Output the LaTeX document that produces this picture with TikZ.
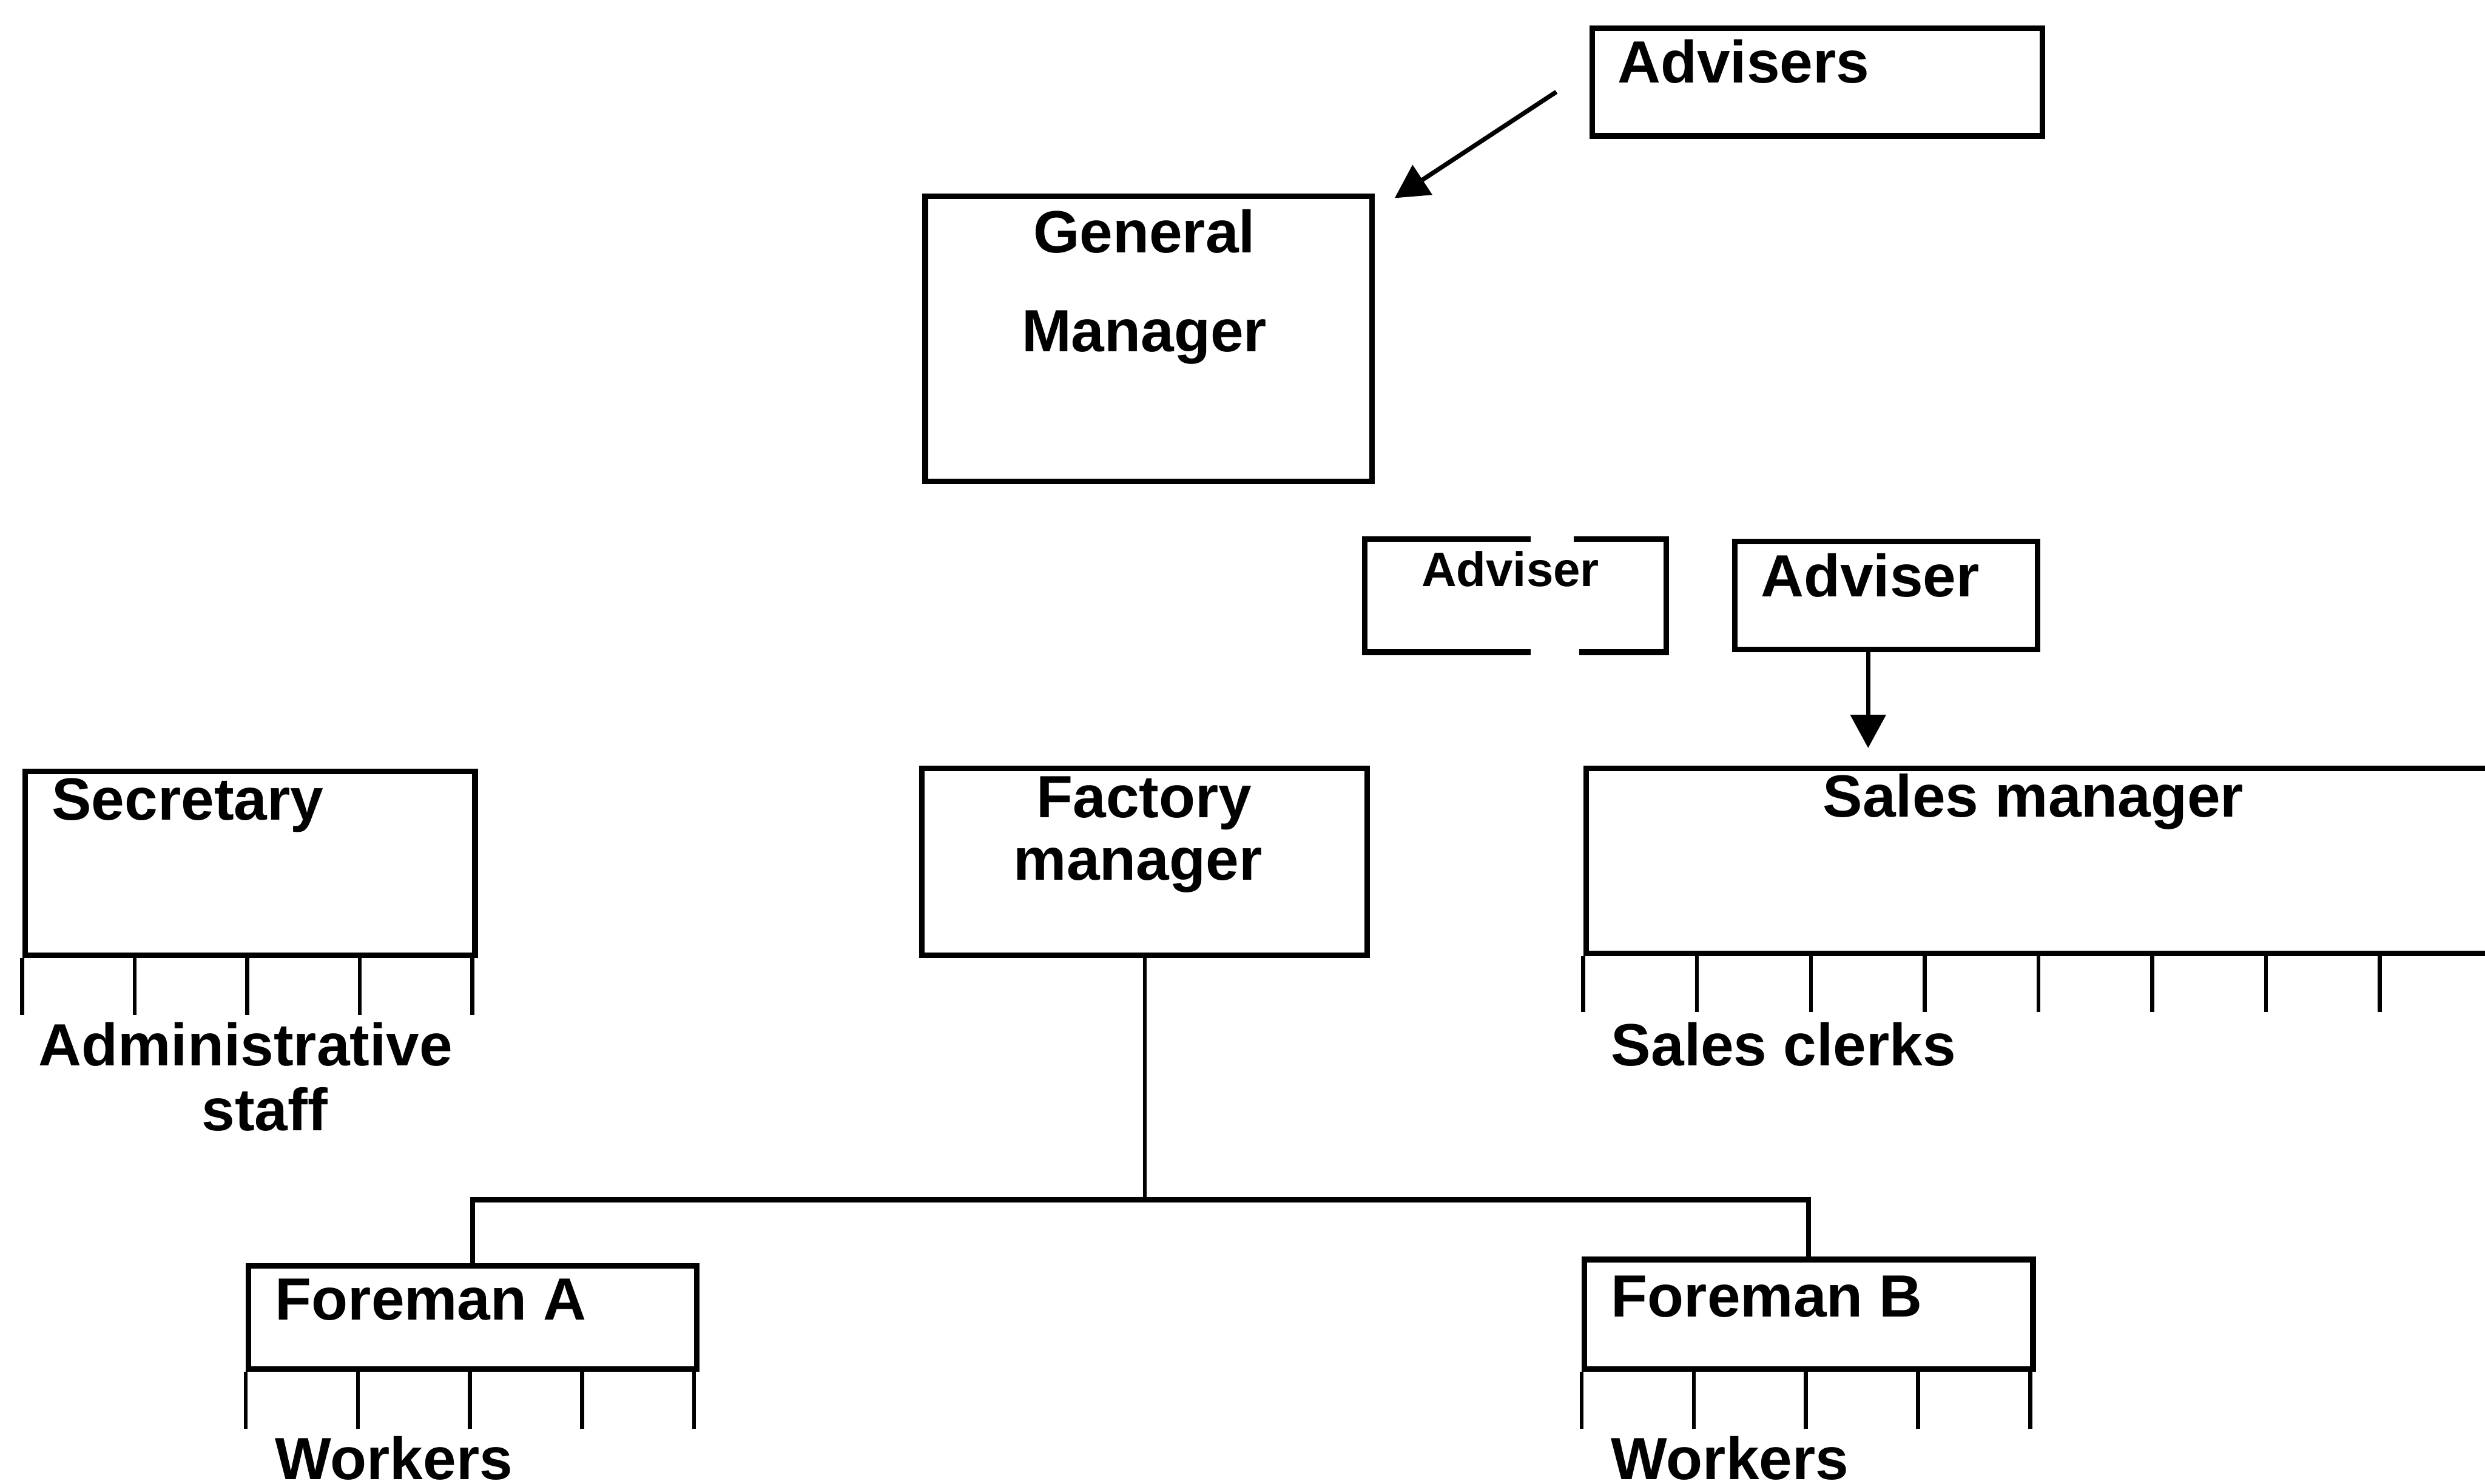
\documentclass[tikz,border=0pt]{standalone}
\usepackage{fontspec}
\setmainfont{Liberation Sans}
\usetikzlibrary{arrows.meta}

\tikzset{
  box/.style={draw, line width=1pt, anchor=north west, inner sep=0pt},
  boxline/.style={line width=1pt},
  lbl/.style={font=\fontsize{10.7}{12}\selectfont\bfseries, inner sep=0pt},
  small/.style={font=\fontsize{8.7}{10}\selectfont\bfseries, inner sep=0pt},
  tick/.style={line width=0.7pt},
  arr/.style={line width=0.8pt, -{Triangle[length=0.21cm, width=0.22cm]}}
}

\begin{document}
\begin{tikzpicture}

\useasboundingbox (0,0) rectangle (15.68,9.36);
\clip (0,0) rectangle (15.68,9.36);

% top
\node[box, minimum width=2.84cm, minimum height=0.68cm] (advisers) at (10.03,9.20) {};
\node[lbl, anchor=west] (advisersT) at (10.20,8.97) {Advisers};
\node[box, minimum width=2.82cm, minimum height=1.80cm] (gm) at (5.82,8.14) {};
\node[lbl] (gmA) at (7.22,7.90) {General};
\node[lbl] (gmB) at (7.22,7.23) {Manager};
\coordinate (atail) at (9.82,8.78);
\coordinate (ahead) at (8.80,8.11);
\draw[arr] (atail) -- (ahead);

% advisers
\node[box, draw=none, minimum width=1.87cm, minimum height=0.68cm] (advd) at (8.61,5.96) {};
\draw[boxline] ([xshift=1.05cm]advd.north west) -| (advd.south west) -- ++(1.05,0);
\draw[boxline] ([xshift=1.32cm]advd.north west) -| (advd.south east) -- ++(-0.55,0);
\node[small] (advdT) at (9.53,5.77) {Adviser};
\node[box, minimum width=1.91cm, minimum height=0.68cm] (adv) at (10.93,5.96) {};
\node[lbl] (advT) at (11.80,5.73) {Adviser};

% middle row
\node[box, minimum width=2.84cm, minimum height=1.16cm] (sec) at (0.14,4.51) {};
\node[lbl, anchor=west] (secT) at (0.32,4.28) {Secretary};
\foreach \i in {0,...,4}
  \draw[tick] ([xshift=\i*0.71cm]sec.south west) -- ++(0,-0.36);
\node[lbl] (admA) at (1.55,2.77) {Administrative};
\node[lbl] (admB) at (1.67,2.36) {staff};

\node[box, minimum width=2.81cm, minimum height=1.18cm] (fac) at (5.80,4.53) {};
\node[lbl] (facA) at (7.22,4.29) {Factory};
\node[lbl] (facB) at (7.18,3.87) {manager};

\node[box, minimum width=6.00cm, minimum height=1.17cm] (sales) at (9.99,4.53) {};
\node[lbl] (salesT) at (12.83,4.30) {Sales manager};
\foreach \i in {0,...,7}
  \draw[tick] ([xshift=\i*0.718cm]sales.south west) -- ++(0,-0.35);
\node[lbl, anchor=west] (clerks) at (10.16,2.77) {Sales clerks};
\draw[arr, shorten >=0.11cm] ([xshift=-0.115cm]adv.south) -- ([xshift=-0.115cm]adv.south |- sales.north);

% foremen
\node[box, minimum width=2.83cm, minimum height=0.65cm] (fa) at (1.55,1.39) {};
\node[lbl, anchor=west] (faT) at (1.73,1.16) {Foreman A};
\foreach \i in {0,...,4}
  \draw[tick] ([xshift=\i*0.7075cm]fa.south west) -- ++(0,-0.36);
\node[lbl, anchor=west] (wkA) at (1.73,0.16) {Workers};

\node[box, minimum width=2.83cm, minimum height=0.69cm] (fb) at (9.98,1.43) {};
\node[lbl, anchor=west] (fbT) at (10.16,1.18) {Foreman B};
\foreach \i in {0,...,4}
  \draw[tick] ([xshift=\i*0.7075cm]fb.south west) -- ++(0,-0.36);
\node[lbl, anchor=west] (wkB) at (10.16,0.16) {Workers};

\coordinate (lvl) at (0,1.79);
\coordinate (split) at (fac.south |- lvl);
\draw[tick] (fac.south) -- (split);
\draw[line width=0.9pt] (fa.north) |- (split) -| (fb.north);

\end{tikzpicture}
\end{document}
